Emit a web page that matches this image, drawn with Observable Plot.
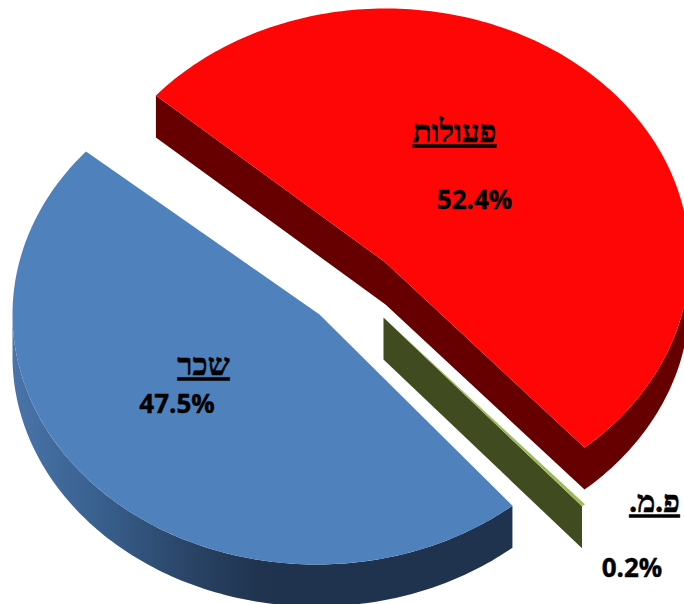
<!DOCTYPE html>
<html>
<head>
<meta charset="utf-8">
<script src="https://cdn.jsdelivr.net/npm/d3@7"></script>
<script src="https://cdn.jsdelivr.net/npm/@observablehq/plot@0.6"></script>
<style>
html,body{margin:0;padding:0;background:#fff;overflow:hidden}
</style>
</head>
<body>
<div id="chart"></div>
<script>
// Data
const categories = ["פעולות", "פ.מ.", "שכר"];
const shares = [52.4, 0.2, 47.5];
const shareLabels = ["52.4%", "0.2%", "47.5%"];

// Styles
const topColors = ["#ff0606", "#9bbb59", "#4f81bd"];
const wallColors = ["#660000", "#404c20", "url(#blueRim)"];

// Layout of the exploded, tilted pie
const W = 684, H = 604;
const DEPTH = 42, START = 220.7;
const radii = [[303.5, 250], [308, 247], [304, 250]];
const centers = [[385.5, 258], [383, 317], [316, 314]];
const apexes = [[385, 262], [383, 317], [319, 314]];
const categoryPos = [[454, 132], [654, 502], [203, 365]];
const sharePos = [[474, 200], [631.5, 568], [176.5, 404]];

const total = d3.sum(shares);
const rad = d => d * Math.PI / 180;
const onRim = (i, a, dz = 0) => [centers[i][0] + radii[i][0] * Math.cos(rad(a)), centers[i][1] + radii[i][1] * Math.sin(rad(a)) + dz];
const arc = (i, a0, a1, dz = 0) => {
  const n = Math.max(2, Math.ceil(Math.abs(a1 - a0)));
  return d3.range(n + 1).map(k => onRim(i, a0 + (a1 - a0) * k / n, dz));
};
const down = (p, dz = DEPTH) => [p[0], p[1] + dz];

let a = START;
const spans = shares.map(v => { const s = [a, a + v / total * 360]; a = s[1]; return s; });

// Top faces
const faces = categories.map((_, i) => [apexes[i], ...arc(i, spans[i][0], spans[i][1])]);

// Visible side walls
const [redS, redE] = spans[0];
const redWall = [
  onRim(0, redS), apexes[0], onRim(0, redE),
  ...arc(0, redE, 360),
  ...arc(0, 360, redE, DEPTH),
  down(apexes[0]), onRim(0, redS, DEPTH)
];
const olivePoint = onRim(1, spans[1][1]);
const oliveWall = [apexes[1], olivePoint, down(olivePoint), down(apexes[1])];
const blueEnd = spans[2][0] - 360;
const blueWall = [
  ...arc(2, blueEnd, 180),
  ...arc(2, 180, blueEnd, DEPTH)
];
const walls = [redWall, oliveWall, blueWall];

const gradient = () => {
  const svg = d3.create("svg:g");
  const g = svg.append("defs").append("linearGradient")
    .attr("id", "blueRim").attr("gradientUnits", "userSpaceOnUse")
    .attr("x1", 12).attr("x2", 300).attr("y1", 0).attr("y2", 0);
  [[0, "#4a74aa"], [0.3, "#38608e"], [0.6, "#2a4568"], [0.85, "#20344f"], [1, "#1f324e"]]
    .forEach(([o, c]) => g.append("stop").attr("offset", o).attr("stop-color", c));
  return svg.node();
};

const poly = (pts, fill) => Plot.line(pts, {x: d => d[0], y: d => d[1], fill, stroke: "none", curve: "linear", clip: true});

const texts = categories.map((c, i) => ({t: c, x: categoryPos[i][0], y: categoryPos[i][1]}));
const pct = shareLabels.map((c, i) => ({t: c, x: sharePos[i][0], y: sharePos[i][1]}));

const plot = Plot.plot({
  width: W, height: H,
  margin: 0,
  x: {domain: [0, W], axis: null},
  y: {domain: [H, 0], axis: null},
  style: {background: "white"},
  marks: [
    gradient,
    ...walls.map((w, i) => poly(w, wallColors[i])),
    ...faces.map((f, i) => poly(f, topColors[i])),
    Plot.text(texts, {x: "x", y: "y", text: "t", fontFamily: "Liberation Serif", fontWeight: "bold", fontSize: 31, fill: "black", stroke: "black", strokeWidth: 0.5}),
    Plot.text(pct, {x: "x", y: "y", text: "t", fontFamily: "Open Sans", fontWeight: "bold", fontSize: 26, fill: "black", stroke: "black", strokeWidth: 0.4})
  ]
});
d3.select(plot).selectAll("text")
  .filter(function() { return categories.includes(this.textContent); })
  .style("text-decoration", "underline")
  .style("direction", "rtl");
document.getElementById("chart").appendChild(plot);
</script>
</body>
</html>
